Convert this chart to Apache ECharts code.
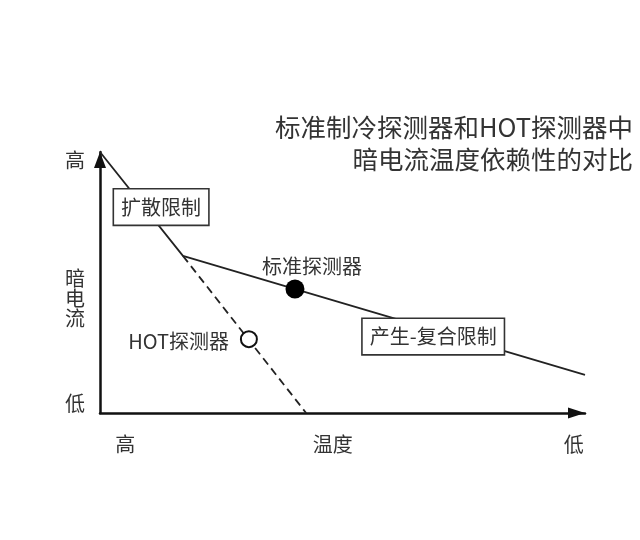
<!DOCTYPE html>
<html>
<head>
<meta charset="utf-8">
<script src="https://cdn.jsdelivr.net/npm/echarts@6/dist/echarts.min.js"></script>
<style>html,body{margin:0;padding:0;background:#fff;}#c{width:640px;height:540px;}</style>
</head>
<body>
<div id="c"></div>
<script>
// ---- data ----
const titleLines = ['标准制冷探测器和HOT探测器中', '暗电流温度依赖性的对比'];
const solidX = [0, 17.1, 100];
const solidY = [100, 60.2, 14.6];
const dashedX = [17.1, 42.5];
const dashedY = [60.2, 0];
const stdPoint = [40.2, 47.5];
const hotPoint = [30.7, 28.3];
const annTexts = ['扩散限制', '产生-复合限制', '标准探测器', 'HOT探测器'];
const annX = [12.6, 68.7, 43.7, 16.2];
const annY = [78.9, 29.3, 56.3, 27.6];
const annBoxed = [true, true, false, false];
const xTickValues = [5.2, 48, 97.7];
const xTickLabels = ['高', '温度', '低'];
const yTickValues = [3.8, 44.0, 96.6];
const yTickLabels = ['低', '暗\n电\n流', '高'];

const FONT = '"Noto Sans CJK SC", "Noto Sans", sans-serif';
const TXT = '#333';

const chart = echarts.init(document.getElementById('c'));
const annData = annTexts.map((t, i) => ({
  value: [annX[i], annY[i]],
  label: annBoxed[i] ? {
    show: true, formatter: t, position: 'inside',
    fontSize: 20, color: TXT, fontFamily: FONT,
    backgroundColor: '#fff', borderColor: '#333', borderWidth: 1.6,
    padding: [6, 7, 5, 7], lineHeight: 24
  } : {
    show: true, formatter: t, position: 'inside',
    fontSize: 20, color: TXT, fontFamily: FONT
  }
}));

chart.setOption({
  animation: false,
  backgroundColor: '#fff',
  graphic: titleLines.map((t, i) => ({
    type: 'text', right: 7, top: 111 + i * 32, silent: true,
    style: {
      text: t, fontSize: 25.5, lineHeight: 32, fill: TXT, fontFamily: FONT
    }
  })),
  grid: { left: 100, right: 55, top: 152, bottom: 127, containLabel: false, outerBoundsMode: 'none' },
  xAxis: {
    type: 'value', min: 0, max: 100,
    splitLine: { show: false }, axisTick: { show: false },
    axisLine: { show: true, lineStyle: { color: '#111', width: 2.5 },
      symbol: ['none', 'triangle'], symbolSize: [11, 17], symbolOffset: [0, -8.5] },
    axisLabel: {
      customValues: xTickValues, margin: 21,
      formatter: v => xTickLabels[xTickValues.indexOf(v)] || '',
      fontSize: 20, color: TXT, fontFamily: FONT, showMinLabel: true, showMaxLabel: true
    }
  },
  yAxis: {
    type: 'value', min: 0, max: 100,
    splitLine: { show: false }, axisTick: { show: false },
    axisLine: { show: true, lineStyle: { color: '#111', width: 2.5 },
      symbol: ['none', 'triangle'], symbolSize: [12, 16], symbolOffset: [0, -8] },
    axisLabel: {
      customValues: yTickValues, margin: 15, lineHeight: 20,
      formatter: v => yTickLabels[yTickValues.indexOf(v)] || '',
      fontSize: 20, color: TXT, fontFamily: FONT, showMinLabel: true, showMaxLabel: true
    }
  },
  series: [
    {
      type: 'line', z: 2, silent: true, symbol: 'none',
      lineStyle: { color: '#222', width: 1.8 },
      data: solidX.map((x, i) => [x, solidY[i]])
    },
    {
      type: 'line', z: 2, silent: true, symbol: 'none',
      lineStyle: { color: '#222', width: 1.8, type: [8, 5] },
      data: dashedX.map((x, i) => [x, dashedY[i]])
    },
    {
      type: 'scatter', z: 3, silent: true, symbolSize: 1,
      itemStyle: { color: 'transparent', opacity: 1 },
      data: annData
    },
    {
      type: 'scatter', z: 4, silent: true, symbolSize: 19,
      itemStyle: { color: '#000', opacity: 1 },
      data: [stdPoint]
    },
    {
      type: 'scatter', z: 4, silent: true, symbolSize: 16,
      itemStyle: { color: '#fff', borderColor: '#111', borderWidth: 2, opacity: 1 },
      data: [hotPoint]
    }
  ]
});
</script>
</body>
</html>
